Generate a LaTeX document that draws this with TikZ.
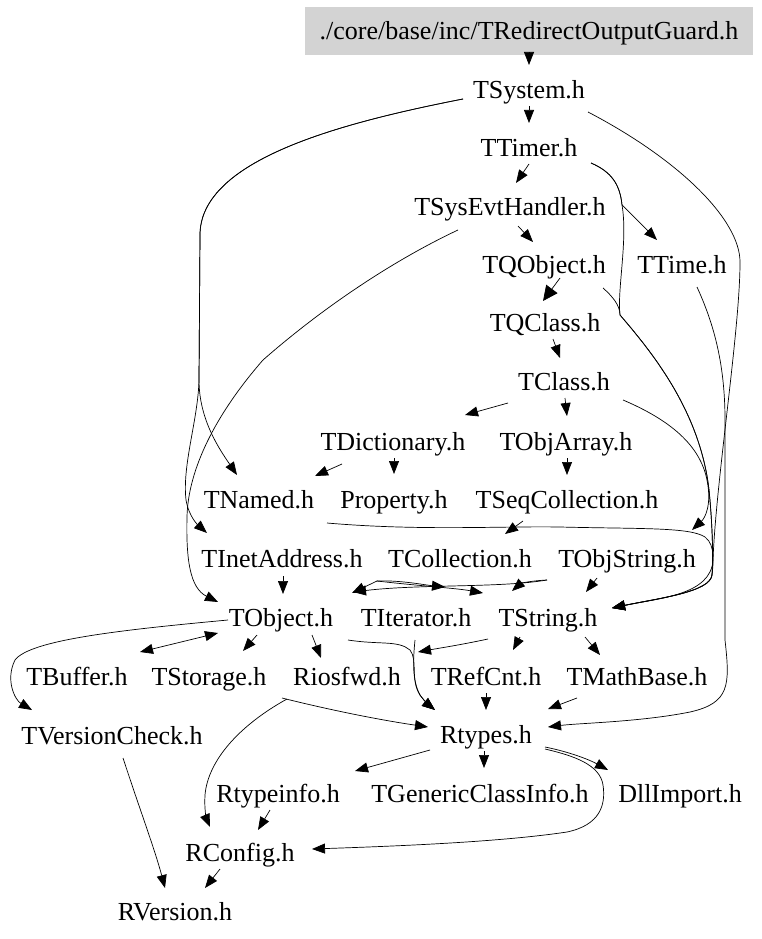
\documentclass[tikz,border=0pt]{standalone}
\usepackage{fontspec}
\setmainfont{Liberation Serif}
\usetikzlibrary{arrows.meta}

\tikzset{
  file/.style = {inner sep=0pt, text height=17pt, text depth=0pt,
                 font=\fontsize{26}{30}\selectfont},
  inc/.style  = {line width=0.7pt, -{Triangle[length=13pt,width=10pt]}},
  both/.style = {line width=0.7pt, {Triangle[length=13pt,width=10pt]}-{Triangle[length=13pt,width=10pt]}},
}

\begin{document}
\begin{tikzpicture}[x=1pt, y=-1pt]
    \useasboundingbox (0,0) rectangle (761,939);

    % files
    \node[file, fill={rgb,255:red,211;green,211;blue,211}, minimum width=448pt, minimum height=48pt]
        (guard) at (529,31) {./core/base/inc/TRedirectOutputGuard.h};
    \node[file] (tsystem)    at (529,90)  {TSystem.h};
    \node[file] (ttimer)     at (529,148) {TTimer.h};
    \node[file] (tsysevt)    at (510,207) {TSysEvtHandler.h};
    \node[file] (tqobject)   at (544,265) {TQObject.h};
    \node[file] (ttime)      at (682,265) {TTime.h};
    \node[file] (tqclass)    at (545,323) {TQClass.h};
    \node[file] (tclass)     at (564,382) {TClass.h};
    \node[file] (tdict)      at (393,442) {TDictionary.h};
    \node[file] (tobjarray)  at (566,442) {TObjArray.h};
    \node[file] (tnamed)     at (259,500) {TNamed.h};
    \node[file] (property)   at (394,500) {Property.h};
    \node[file] (tseqcoll)   at (567,500) {TSeqCollection.h};
    \node[file] (tinet)      at (282,559) {TInetAddress.h};
    \node[file] (tcoll)      at (460,559) {TCollection.h};
    \node[file] (tobjstring) at (627,559) {TObjString.h};
    \node[file] (tobject)    at (281,618) {TObject.h};
    \node[file] (titer)      at (416,618) {TIterator.h};
    \node[file] (tstring)    at (548,618) {TString.h};
    \node[file] (tbuffer)    at (77,677)  {TBuffer.h};
    \node[file] (tstorage)   at (209,677) {TStorage.h};
    \node[file] (riosfwd)    at (347,677) {Riosfwd.h};
    \node[file] (trefcnt)    at (486,677) {TRefCnt.h};
    \node[file] (tmathbase)  at (637,677) {TMathBase.h};
    \node[file] (tversion)   at (112,736) {TVersionCheck.h};
    \node[file] (rtypes)     at (486,735) {Rtypes.h};
    \node[file] (rtypeinfo)  at (278,794) {Rtypeinfo.h};
    \node[file] (tgeneric)   at (480,794) {TGenericClassInfo.h};
    \node[file] (dllimport)  at (680,794) {DllImport.h};
    \node[file] (rconfig)    at (240,853) {RConfig.h};
    \node[file] (rversion)   at (175,912) {RVersion.h};

    % top chain
    \draw[inc] ([shift={(0,24)}]guard.center) -- ([shift={(0,-25)}]tsystem.center);
    \draw[inc] ([shift={(0,16)}]tsystem.center) -- ([shift={(0,-25)}]ttimer.center);
    \draw[inc] ([shift={(0,16)}]ttimer.center) -- ([shift={(6,-24)}]tsysevt.center);
    \draw[inc] ([shift={(8,19)}]tsysevt.center) -- ([shift={(-11,-23)}]tqobject.center);
    \draw[inc] ([shift={(62,15)}]ttimer.center) .. controls (612,172) and (620,185) .. (622,205) -- ([shift={(-25,-25)}]ttime.center);
    \draw[line width=0.7pt, -{Triangle[length=15pt,width=14pt]}] ([shift={(16,13)}]tqobject.center) -- ([shift={(-2,-22)}]tqclass.center);
    \draw[inc] ([shift={(8,16)}]tqclass.center) -- ([shift={(-4,-24)}]tclass.center);
    \draw[inc] ([shift={(-56,21)}]tclass.center) -- ([shift={(72,-27)}]tdict.center);
    \draw[inc] ([shift={(1,16)}]tclass.center) -- ([shift={(1,-26)}]tobjarray.center);
    \draw[inc] ([shift={(59,18)}]tclass.center) .. controls (670,420) and (700,445) .. (707,480)
        .. controls (712,505) and (705,518) .. ([shift={(65,-29)}]tobjstring.center);
    \draw[inc] ([shift={(-51,22)}]tdict.center) -- ([shift={(56,-24)}]tnamed.center);
    \draw[inc] ([shift={(1,16)}]tdict.center) -- ([shift={(0,-26)}]property.center);
    \draw[inc] ([shift={(1,16)}]tobjarray.center) -- ([shift={(0,-25)}]tseqcoll.center);
    \draw[inc] ([shift={(-44,21)}]tseqcoll.center) -- ([shift={(45,-25)}]tcoll.center);

    % long curves on the right
    \draw[inc] ([shift={(68,23)}]tnamed.center) .. controls (420,531) and (500,526) .. (560,527)
        .. controls (640,529) and (690,527) .. (705,537) .. controls (716,545) and (713,565) .. (712,575)
        .. controls (710,592) and (660,598) .. ([shift={(64,-10)}]tstring.center);
    \draw[inc] ([shift={(59,22)}]tsystem.center) .. controls (680,160) and (740,220) .. (740,262)
        .. controls (740,330) and (716,480) .. (713,560)
        .. controls (711,595) and (660,598) .. ([shift={(64,-10)}]tstring.center);
    \draw[inc] ([shift={(62,15)}]ttimer.center) .. controls (612,172) and (620,185) .. (622,205)
        .. controls (628,240) and (617,290) .. (620,315) .. controls (650,350) and (700,410) .. (709,490)
        .. controls (713,530) and (713,560) .. (712,575)
        .. controls (710,592) and (660,598) .. ([shift={(64,-10)}]tstring.center);
    \draw[inc] ([shift={(59,23)}]tqobject.center) .. controls (612,296) and (620,305) .. (620,315)
        .. controls (650,350) and (700,410) .. (709,490) .. controls (713,530) and (713,560) .. (712,575)
        .. controls (710,592) and (660,598) .. ([shift={(64,-10)}]tstring.center);
    \draw[inc] ([shift={(15,22)}]ttime.center) .. controls (712,320) and (725,360) .. (725,420) -- (725,640)
        .. controls (730,685) and (730,703) .. (690,712)
        .. controls (640,722) and (580,723) .. ([shift={(62,-8)}]rtypes.center);

    % long curves on the left
    \draw[inc] ([shift={(-66,9)}]tsystem.center) .. controls (340,123) and (200,160) .. (200,235) -- (199,380)
        .. controls (199,420) and (220,450) .. ([shift={(-22,-25)}]tnamed.center);
    \draw[inc] ([shift={(-66,9)}]tsystem.center) .. controls (340,123) and (200,160) .. (200,235) -- (199,380)
        .. controls (198,420) and (182,465) .. (186,500)
        .. controls (189,517) and (198,525) .. ([shift={(-75,-26)}]tinet.center);
    \draw[inc] ([shift={(-52,23)}]tsysevt.center) .. controls (390,262) and (320,310) .. (263,360)
        .. controls (215,415) and (188,470) .. (187,517)
        .. controls (186,560) and (190,588) .. ([shift={(-63,-16)}]tobject.center);

    % middle rows
    \draw[inc] ([shift={(1,17)}]tinet.center) -- ([shift={(2,-24)}]tobject.center);
    \draw[inc] ([shift={(-83,22)}]tcoll.center) -- ([shift={(71,-25)}]tobject.center);
    \draw[inc] ([shift={(-83,22)}]tcoll.center) .. controls (400,580) and (425,585) .. ([shift={(29,-31)}]titer.center);
    \draw[inc] ([shift={(-83,22)}]tcoll.center) .. controls (420,586) and (455,588) .. ([shift={(-65,-25)}]tstring.center);
    \draw[inc] ([shift={(-80,21)}]tobjstring.center) .. controls (500,588) and (420,584) .. ([shift={(72,-26)}]tobject.center);
    \draw[inc] ([shift={(-80,21)}]tobjstring.center) .. controls (527,581) and (520,584) .. ([shift={(-36,-27)}]tstring.center);
    \draw[inc] ([shift={(-30,19)}]tobjstring.center) -- ([shift={(38,-26)}]tstring.center);

    % below TObject and TString
    \draw[inc] ([shift={(-53,2)}]tobject.center) .. controls (120,630) and (30,640) .. (15,660)
        .. controls (5,680) and (15,700) .. ([shift={(-80,-26)}]tversion.center);
    \draw[both] ([shift={(-63,15)}]tobject.center) -- ([shift={(63,-25)}]tbuffer.center);
    \draw[inc] ([shift={(-24,17)}]tobject.center) -- ([shift={(34,-26)}]tstorage.center);
    \draw[inc] ([shift={(31,17)}]tobject.center) -- ([shift={(-26,-19)}]riosfwd.center);
    \draw[inc] ([shift={(67,22)}]tobject.center) .. controls (380,645) and (398,640) .. (410,650)
        .. controls (418,660) and (410,680) .. (420,695)
        .. controls (425,702) and (430,706) .. ([shift={(-51,-25)}]rtypes.center);
    \draw[inc] ([shift={(-1,22)}]titer.center) .. controls (413,660) and (412,680) .. (420,695)
        .. controls (425,702) and (430,706) .. ([shift={(-51,-25)}]rtypes.center);
    \draw[inc] ([shift={(-60,21)}]tstring.center) .. controls (460,645) and (440,648) .. ([shift={(71,-25)}]riosfwd.center);
    \draw[inc] ([shift={(-28,19)}]tstring.center) -- ([shift={(27,-27)}]trefcnt.center);
    \draw[inc] ([shift={(37,19)}]tstring.center) -- ([shift={(-37,-22)}]tmathbase.center);
    \draw[inc] ([shift={(0,16)}]trefcnt.center) -- ([shift={(0,-25)}]rtypes.center);
    \draw[inc] ([shift={(-60,21)}]tmathbase.center) -- ([shift={(62,-26)}]rtypes.center);
    \draw[inc] ([shift={(73,21)}]tstorage.center) .. controls (330,710) and (380,720) .. ([shift={(-58,-8)}]rtypes.center);
    \draw[inc] ([shift={(-60,22)}]riosfwd.center) .. controls (240,725) and (208,760) .. (205,795)
        .. controls (204,810) and (207,820) .. ([shift={(-30,-26)}]rconfig.center);

    % below Rtypes
    \draw[inc] ([shift={(-56,15)}]rtypes.center) -- ([shift={(77,-23)}]rtypeinfo.center);
    \draw[inc] ([shift={(-2,16)}]rtypes.center) -- ([shift={(4,-26)}]tgeneric.center);
    \draw[inc] ([shift={(59,12)}]rtypes.center) .. controls (570,752) and (590,760) .. ([shift={(-72,-24)}]dllimport.center);
    \draw[inc] ([shift={(59,14)}]rtypes.center) .. controls (575,756) and (600,765) .. (603,785)
        .. controls (606,805) and (600,825) .. (567,832)
        .. controls (500,842) and (400,846) .. ([shift={(72,-4)}]rconfig.center);
    \draw[inc] ([shift={(-8,16)}]rtypeinfo.center) -- ([shift={(18,-23)}]rconfig.center);
    \draw[inc] ([shift={(-20,16)}]rconfig.center) -- ([shift={(30,-24)}]rversion.center);
    \draw[inc] ([shift={(11,22)}]tversion.center) .. controls (140,810) and (155,850) .. ([shift={(-10,-24)}]rversion.center);
\end{tikzpicture}
\end{document}
